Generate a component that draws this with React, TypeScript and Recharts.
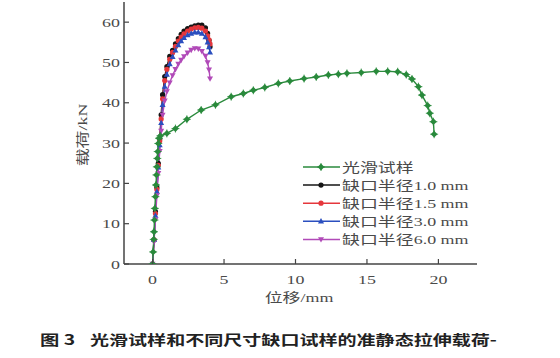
import { LineChart, Line, XAxis, YAxis, Label } from 'recharts';

// 光滑试样 (smooth specimen)
const smoothX = [0, 0.04, 0.08, 0.1, 0.13, 0.16, 0.2, 0.24, 0.27, 0.3, 0.33, 0.36, 0.4, 0.45, 0.55,
  1.0, 1.6, 2.4, 3.4, 4.4, 5.5, 6.35, 7.05, 7.85, 8.8, 9.6, 10.6, 11.45, 12.3, 13.0, 13.6, 14.6,
  15.65, 16.45, 17.15, 17.75, 18.15, 18.6, 18.85, 19.25, 19.4, 19.65, 19.7];
const smoothY = [0, 3, 6.1, 8, 10.9, 13.8, 16.7, 19.6, 22.1, 24.1, 26.2, 27.9, 29.9, 31.2, 31.8,
  32.4, 33.6, 35.9, 38.2, 39.5, 41.5, 42.3, 43.1, 43.8, 44.8, 45.4, 46.0, 46.4, 46.9, 47.1, 47.3, 47.5,
  47.8, 47.8, 47.7, 47.0, 45.9, 44.0, 41.9, 39.3, 37.4, 35.3, 32.2];

// 缺口试样 (notched specimens)
const notchX = [0, 0.1, 0.2, 0.3, 0.4, 0.5, 0.6, 0.7, 0.85, 1.0, 1.2, 1.4, 1.6, 1.8, 2.0, 2.2, 2.45,
  2.7, 2.95, 3.2, 3.45, 3.7, 3.85, 3.95, 4.02];
const r10Y = [0, 6, 13, 19, 25, 31, 37, 42, 46.5, 49, 51.5, 53, 54.6, 55.9, 57, 57.8, 58.4, 58.8,
  59.1, 59.3, 59.3, 58.6, 57.2, 55.5, 53.9];
const r15Y = [0, 6, 12.5, 18.5, 24.5, 30.5, 36, 41, 45.5, 48.3, 50.8, 52.5, 54, 55.3, 56.3, 57.1,
  57.8, 58.3, 58.6, 58.7, 58.5, 57.8, 56.6, 55.6, 54.6];
const r30Y = [0, 6, 12, 18, 24, 29.5, 35, 39.5, 44, 47, 49.6, 51.4, 53, 54.3, 55.3, 56.1, 56.8, 57.2,
  57.5, 57.5, 57.2, 56.3, 55, 53.8, 52.5];
const r60Y = [0, 5.5, 11, 17, 22.5, 28, 33, 37, 40.5, 42.8, 45, 46.8, 48.3, 49.6, 50.6, 51.5, 52.4,
  53.1, 53.5, 53.4, 52.8, 51.6, 50, 48.2, 46];

const xTicks = [0, 5, 10, 15, 20];
const yTicks = [0, 10, 20, 30, 40, 50, 60];

const toPoints = (xs: number[], ys: number[]) => xs.map((x, i) => ({ x, y: ys[i] }));

const serif = '"Liberation Serif", "DejaVu Serif", "Noto Sans CJK SC", serif';
const textColor = '#4a4a4a';
const SX = 1.38;

const series = [
  { name: '缺口半径1.0 mm', data: toPoints(notchX, r10Y), color: '#151515', shape: 'circle' },
  { name: '缺口半径1.5 mm', data: toPoints(notchX, r15Y), color: '#e5373c', shape: 'circle' },
  { name: '缺口半径3.0 mm', data: toPoints(notchX, r30Y), color: '#2b4fbf', shape: 'up' },
  { name: '缺口半径6.0 mm', data: toPoints(notchX, r60Y), color: '#b14ab8', shape: 'down' },
  { name: '光滑试样', data: toPoints(smoothX, smoothY), color: '#2a8a3c', shape: 'diamond' },
];
const legendOrder = [4, 0, 1, 2, 3];

const marker = (shape: string, color: string, cx: number, cy: number, key?: string) => {
  if (shape === 'circle') return <circle key={key} cx={cx} cy={cy} r={2.6} fill={color} />;
  if (shape === 'up')
    return <path key={key} d={`M${cx},${cy - 3.2}L${cx + 3},${cy + 2.2}L${cx - 3},${cy + 2.2}Z`} fill={color} />;
  if (shape === 'down')
    return <path key={key} d={`M${cx},${cy + 3.2}L${cx + 3},${cy - 2.2}L${cx - 3},${cy - 2.2}Z`} fill={color} />;
  return (
    <g key={key}>
      <path d={`M${cx},${cy - 3.4}L${cx + 3.4},${cy}L${cx},${cy + 3.4}L${cx - 3.4},${cy}Z`} fill={color} />
      <path d={`M${cx - 4},${cy}H${cx + 4}M${cx},${cy - 4}V${cy + 4}`} stroke={color} strokeWidth={0.8} />
    </g>
  );
};

const XTick = (props: any) => {
  const { x, y, payload } = props;
  return (
    <g>
      <line x1={x} y1={y} x2={x} y2={y - 5} stroke="#444" strokeWidth={1.2} />
      <text transform={`translate(${x},${y + 20}) scale(${SX},1)`} textAnchor="middle" fontSize={13}
        fontFamily={serif} fill={textColor}>{payload.value}</text>
    </g>
  );
};

const YTick = (props: any) => {
  const { x, y, payload } = props;
  return (
    <g>
      <line x1={x} y1={y} x2={x + 5} y2={y} stroke="#444" strokeWidth={1.2} />
      <text transform={`translate(${x - 4},${y + 4.5}) scale(${SX},1)`} textAnchor="end" fontSize={13}
        fontFamily={serif} fill={textColor}>{payload.value}</text>
    </g>
  );
};

const LegendBox = () => (
  <svg width={190} height={95} style={{ display: 'block' }}>
    {legendOrder.map((idx, i) => {
      const s = series[idx];
      const cy = 9 + i * 18.1;
      return (
        <g key={s.name}>
          <line x1={3} y1={cy} x2={40} y2={cy} stroke={s.color} strokeWidth={1.5} />
          {marker(s.shape, s.color, 21, cy)}
          <text transform={`translate(42,${cy + 4.5}) scale(${SX},1)`} fontSize={13} fontFamily={serif}
            fill={textColor}>{s.name}</text>
        </g>
      );
    })}
  </svg>
);

export default function App() {
  return (
    <div style={{ position: 'absolute', left: 0, top: 0, width: 560, height: 358, background: '#fff' }}>
      <LineChart width={560} height={320} margin={{ top: 2, right: 83, bottom: 20, left: 0 }}>
        <XAxis type="number" dataKey="x" domain={[-2, 22.7]} ticks={xTicks} interval={0} allowDataOverflow
          height={36} tickSize={0} tickMargin={0} tick={<XTick />} axisLine={{ stroke: '#444', strokeWidth: 1.5 }}>
          <Label content={() => (
            <text transform={`translate(299,302) scale(${SX},1)`} textAnchor="middle" fontSize={13}
              fontFamily={serif} fill={textColor}>位移/mm</text>
          )} />
        </XAxis>
        <YAxis type="number" dataKey="y" domain={[0, 65]} ticks={yTicks} interval={0} allowDataOverflow
          width={124} tickSize={0} tickMargin={0} tick={<YTick />} axisLine={{ stroke: '#444', strokeWidth: 1.5 }}>
          <Label content={() => (
            <text transform={`translate(82,135) rotate(-90) scale(${SX},1)`} textAnchor="middle"
              dominantBaseline="central" fontSize={13} fontFamily={serif} fill={textColor}>载荷/kN</text>
          )} />
        </YAxis>
        {series.map((s) => (
          <Line key={s.name} data={s.data} dataKey="y" name={s.name} type="linear" stroke={s.color}
            strokeWidth={1.4} isAnimationActive={false}
            dot={(p: any) => marker(s.shape, s.color, p.cx, p.cy, `${s.name}-${p.index}`)} activeDot={false} />
        ))}
      </LineChart>
      <div style={{ position: 'absolute', left: 300, top: 158 }}>
        <LegendBox />
      </div>
      <div style={{ position: 'absolute', left: 40, top: 330, fontSize: 14, fontWeight: 'bold', color: '#222',
        fontFamily: '"Noto Sans CJK SC", sans-serif', whiteSpace: 'pre', transform: `scaleX(${SX})`,
        transformOrigin: 'left center', lineHeight: '18px' }}>图 3</div>
      <div style={{ position: 'absolute', left: 90, top: 330, fontSize: 14, fontWeight: 'bold', color: '#222',
        fontFamily: '"Noto Sans CJK SC", sans-serif', whiteSpace: 'pre', transform: 'scaleX(1.36)',
        transformOrigin: 'left center', lineHeight: '18px' }}>光滑试样和不同尺寸缺口试样的准静态拉伸载荷-</div>
    </div>
  );
}
